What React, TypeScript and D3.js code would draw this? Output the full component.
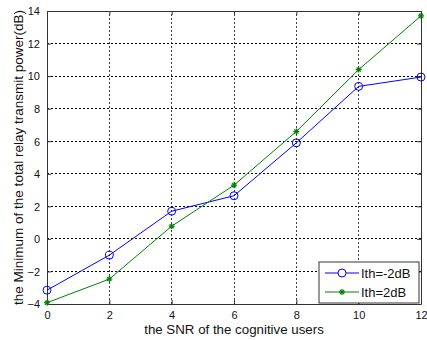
import { useEffect, useRef } from "react";
import * as d3 from "d3";

const snr = [0, 2, 4, 6, 8, 10, 12];
const ithMinus2 = [-3.15, -1.0, 1.7, 2.65, 5.9, 9.37, 9.94];
const ithPlus2 = [-3.92, -2.47, 0.78, 3.3, 6.6, 10.4, 13.7];
const xTicks = [0, 2, 4, 6, 8, 10, 12];
const yTicks = [-4, -2, 0, 2, 4, 6, 8, 10, 12, 14];
const seriesNames = ["Ith=-2dB", "Ith=2dB"];

const W = 427,
  H = 340;
const M = { top: 11, right: 6, bottom: 36, left: 47 };

export default function App() {
  const ref = useRef<SVGSVGElement>(null);

  useEffect(() => {
    const svg = d3.select(ref.current);
    svg.selectAll("*").remove();

    const x = d3.scaleLinear().domain([0, 12]).range([M.left, W - M.right]);
    const y = d3.scaleLinear().domain([-4, 14]).range([H - M.bottom, M.top]);
    const font = "'Liberation Sans', Arial, sans-serif";

    svg.append("rect").attr("width", W).attr("height", H).attr("fill", "#fff");

    // grid
    const grid = svg.append("g").attr("stroke", "#000").attr("stroke-width", 1)
      .attr("stroke-dasharray", "2,2").attr("shape-rendering", "crispEdges");
    xTicks.slice(1, -1).forEach((t) => {
      grid.append("line").attr("x1", x(t)).attr("x2", x(t))
        .attr("y1", y(-4)).attr("y2", y(14)).attr("stroke-opacity", 0.75);
    });
    yTicks.slice(1, -1).forEach((t) => {
      grid.append("line").attr("y1", y(t)).attr("y2", y(t))
        .attr("x1", x(0)).attr("x2", x(12));
    });

    // axes (matlab style: ticks inward on all 4 sides)
    const bottom = svg.append("g")
      .attr("transform", `translate(0,${y(-4)})`)
      .call(d3.axisBottom(x).tickValues(xTicks).tickSizeInner(-4).tickSizeOuter(0).tickPadding(7));
    const left = svg.append("g")
      .attr("transform", `translate(${x(0)},0)`)
      .call(d3.axisLeft(y).tickValues(yTicks).tickSizeInner(-4).tickSizeOuter(0).tickPadding(7));
    svg.append("g")
      .attr("transform", `translate(0,${y(14)})`)
      .call(d3.axisTop(x).tickValues(xTicks).tickSizeInner(-4).tickSizeOuter(0).tickFormat(() => ""));
    svg.append("g")
      .attr("transform", `translate(${x(12)},0)`)
      .call(d3.axisRight(y).tickValues(yTicks).tickSizeInner(-4).tickSizeOuter(0).tickFormat(() => ""));
    svg.selectAll(".domain, .tick line").attr("stroke", "#333");
    [bottom, left].forEach((g) =>
      g.selectAll("text").attr("font-family", font).attr("font-size", 11).attr("fill", "#111")
    );
    left.selectAll("text").attr("dy", "0.35em");

    // labels
    svg.append("text")
      .attr("x", (x(0) + x(12)) / 2).attr("y", H - 6)
      .attr("text-anchor", "middle").attr("font-family", font).attr("font-size", 13.3)
      .attr("fill", "#111").text("the SNR of the cognitive users");
    svg.append("text")
      .attr("transform", `translate(23,${(y(-4) + y(14)) / 2}) rotate(-90)`)
      .attr("text-anchor", "middle").attr("font-family", font).attr("font-size", 13.5)
      .attr("fill", "#111").text("the Minimum of the total relay transmit power(dB)");

    const lineGen = d3.line<number>().x((d, i) => x(snr[i])).y((d) => y(d));

    const star = (g: any, cx: number, cy: number, color: string) => {
      const r = 3;
      const p = g.append("g").attr("stroke", color).attr("stroke-width", 1.2);
      p.append("line").attr("x1", cx - r).attr("x2", cx + r).attr("y1", cy).attr("y2", cy);
      p.append("line").attr("x1", cx).attr("x2", cx).attr("y1", cy - r).attr("y2", cy + r);
      p.append("line").attr("x1", cx - r * 0.7).attr("x2", cx + r * 0.7).attr("y1", cy - r * 0.7).attr("y2", cy + r * 0.7);
      p.append("line").attr("x1", cx - r * 0.7).attr("x2", cx + r * 0.7).attr("y1", cy + r * 0.7).attr("y2", cy - r * 0.7);
    };

    // series 1 (blue circles)
    svg.append("path").attr("d", lineGen(ithMinus2)).attr("fill", "none")
      .attr("stroke", "#0000ff").attr("stroke-width", 1);
    ithMinus2.forEach((v, i) => {
      svg.append("circle").attr("cx", x(snr[i])).attr("cy", y(v)).attr("r", 4)
        .attr("fill", "none").attr("stroke", "#0000ff").attr("stroke-width", 1);
    });

    // series 2 (green stars)
    svg.append("path").attr("d", lineGen(ithPlus2)).attr("fill", "none")
      .attr("stroke", "#008000").attr("stroke-width", 1);
    ithPlus2.forEach((v, i) => star(svg, x(snr[i]), y(v), "#008000"));

    // legend
    const lg = svg.append("g").attr("transform", "translate(319,262)");
    lg.append("rect").attr("width", 100).attr("height", 41).attr("fill", "#fff")
      .attr("stroke", "#333").attr("stroke-width", 1);
    const colors = ["#0000ff", "#008000"];
    seriesNames.forEach((name, i) => {
      const cy = 11 + i * 19;
      lg.append("line").attr("x1", 6).attr("x2", 40).attr("y1", cy).attr("y2", cy)
        .attr("stroke", colors[i]).attr("stroke-width", 1);
      if (i === 0) {
        lg.append("circle").attr("cx", 23).attr("cy", cy).attr("r", 4)
          .attr("fill", "#fff").attr("stroke", colors[i]);
      } else {
        star(lg, 23, cy, colors[i]);
      }
      lg.append("text").attr("x", 42).attr("y", cy).attr("dy", "0.35em")
        .attr("font-family", font).attr("font-size", 13).attr("fill", "#111").text(name);
    });
  }, []);

  return (
    <svg ref={ref} width={W} height={H} style={{ position: "absolute", left: 0, top: 0 }} />
  );
}
